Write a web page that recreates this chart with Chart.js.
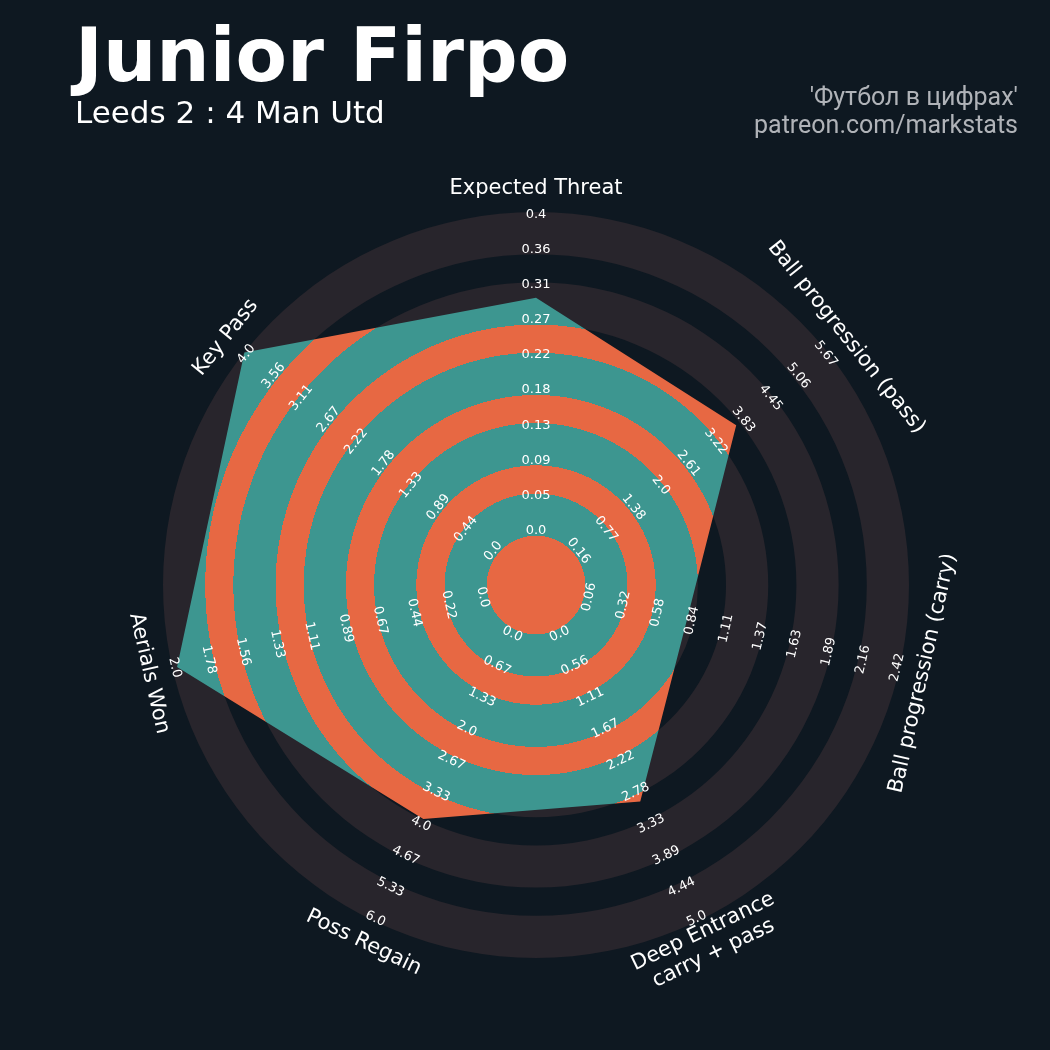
<!DOCTYPE html>
<html>
<head>
<meta charset="utf-8">
<script src="https://cdn.jsdelivr.net/npm/chart.js@4.4.0/dist/chart.umd.min.js"></script>
<style>
  body { margin: 0; background: #0e1821; }
  #wrap { position: relative; width: 1050px; height: 1050px; background: #0e1821; overflow: hidden; }
  #radar { position: absolute; left: 0; top: 0; }
  .txt { position: absolute; line-height: 1; white-space: nowrap; }
  #title { left: 75px; top: 11px; font: bold 75px "DejaVu Sans"; color: #ffffff; }
  #sub { left: 75px; top: 94px; font: 31px "DejaVu Sans"; color: #ffffff; }
  .credit { right: 32px; font: 25px Roboto; color: #b0b3b8; text-align: right; }
</style>
</head>
<body>
<div id="wrap">
  <canvas id="radar" width="1050" height="1050"></canvas>
  <div class="txt" id="title">Junior Firpo</div>
  <div class="txt" id="sub">Leeds 2 : 4 Man Utd</div>
  <div class="txt credit" style="top:82px">'Футбол в цифрах'</div>
  <div class="txt credit" style="top:110px">patreon.com/markstats</div>
</div>
<script>
// Параметры радара
const params = ['Expected Threat', 'Ball progression (pass)', 'Ball progression (carry)',
  ['Deep Entrance', 'carry + pass'], 'Poss Regain', 'Aerials Won', 'Key Pass'];
const lows = [0, 0.16, 0.06, 0, 0, 0, 0];
const highs = [0.4, 5.67, 2.42, 5, 6, 2, 4];
const values = [0.294, 3.68, 0.83, 2.95, 3.9, 1.97, 4.0];

// Подписи на осях
const tickLabels = [
  ['0.0', '0.05', '0.09', '0.13', '0.18', '0.22', '0.27', '0.31', '0.36', '0.4'],
  ['0.16', '0.77', '1.38', '2.0', '2.61', '3.22', '3.83', '4.45', '5.06', '5.67'],
  ['0.06', '0.32', '0.58', '0.84', '1.11', '1.37', '1.63', '1.89', '2.16', '2.42'],
  ['0.0', '0.56', '1.11', '1.67', '2.22', '2.78', '3.33', '3.89', '4.44', '5.0'],
  ['0.0', '0.67', '1.33', '2.0', '2.67', '3.33', '4.0', '4.67', '5.33', '6.0'],
  ['0.0', '0.22', '0.44', '0.67', '0.89', '1.11', '1.33', '1.56', '1.78', '2.0'],
  ['0.0', '0.44', '0.89', '1.33', '1.78', '2.22', '2.67', '3.11', '3.56', '4.0']
];

// границы колец (в единицах шкалы), центр круга = -3.5
const ringEdges = [0, 3, 5, 8, 10, 13, 15, 18, 20, 23];
const teal = '#3d9690';
const orange = '#e76843';
const ringColor = '#28252c';

const ringMax = ringEdges[ringEdges.length - 1];
const scaled = values.map((v, i) => (v - lows[i]) / (highs[i] - lows[i]) * ringMax);

// заливка полигона полосами
function bandFill(context) {
  const chart = context.chart;
  const s = chart.scales.r;
  if (!s || !s.drawingArea) return teal;
  const g = chart.ctx.createRadialGradient(s.xCenter, s.yCenter, 0, s.xCenter, s.yCenter, s.drawingArea);
  const f = v => Math.min(1, s.getDistanceFromCenterForValue(v) / s.drawingArea);
  let prev = orange;
  g.addColorStop(0, orange);
  ringEdges.forEach((e, k) => {
    const next = k % 2 === 0 ? teal : orange;
    g.addColorStop(f(e), prev);
    g.addColorStop(f(e), next);
    prev = next;
  });
  g.addColorStop(1, prev);
  return g;
}

// фоновые кольца
const ringPlugin = {
  id: 'rings',
  beforeDatasetsDraw(chart) {
    const s = chart.scales.r;
    const ctx = chart.ctx;
    ctx.save();
    ctx.fillStyle = ringColor;
    for (let i = 0; i < ringEdges.length - 1; i += 2) {
      const r1 = s.getDistanceFromCenterForValue(ringEdges[i]);
      const r2 = s.getDistanceFromCenterForValue(ringEdges[i + 1]);
      ctx.beginPath();
      ctx.arc(s.xCenter, s.yCenter, r2, 0, Math.PI * 2);
      ctx.arc(s.xCenter, s.yCenter, r1, 0, Math.PI * 2, true);
      ctx.fill();
    }
    ctx.restore();
  }
};

// подписи осей и значений
const labelPlugin = {
  id: 'axisText',
  afterDatasetsDraw(chart) {
    const s = chart.scales.r;
    const ctx = chart.ctx;
    const n = params.length;
    ctx.save();
    ctx.fillStyle = '#ffffff';
    ctx.textAlign = 'center';
    ctx.textBaseline = 'middle';
    for (let i = 0; i < n; i++) {
      let rot = 360 * i / n;
      if (rot > 90 && rot < 270) rot -= 180;
      const rad = rot * Math.PI / 180;

      ctx.font = '13px "DejaVu Sans"';
      tickLabels[i].forEach((t, j) => {
        const p = s.getPointPositionForValue(i, 0.37 + 2.495 * j);
        ctx.save();
        ctx.translate(p.x, p.y);
        ctx.rotate(rad);
        ctx.fillText(t, 0, 0);
        ctx.restore();
      });

      ctx.font = '21px "DejaVu Sans"';
      const lines = [].concat(params[i]);
      const p = s.getPointPositionForValue(i, 24.7);
      ctx.save();
      ctx.translate(p.x, p.y);
      ctx.rotate(rad);
      lines.forEach((l, k) => ctx.fillText(l, 0, (k - (lines.length - 1) / 2) * 24));
      ctx.restore();
    }
    ctx.restore();
  }
};

const ctx = document.getElementById('radar').getContext('2d');
const radarChart = new Chart(ctx, {
  type: 'radar',
  data: {
    labels: params,
    datasets: [{
      data: scaled,
      backgroundColor: bandFill,
      borderWidth: 0,
      pointRadius: 0,
      fill: 'start'
    }]
  },
  options: {
    responsive: false,
    animation: false,
    devicePixelRatio: 1,
    layout: { padding: { left: 163, top: 212, right: 140, bottom: 91 } },
    plugins: { legend: { display: false }, tooltip: { enabled: false } },
    scales: {
      r: {
        min: -3.5,
        max: ringMax,
        beginAtZero: false,
        grid: { display: false },
        angleLines: { display: false },
        ticks: { display: false },
        pointLabels: { display: false }
      }
    }
  },
  plugins: [ringPlugin, labelPlugin]
});
</script>
</body>
</html>
